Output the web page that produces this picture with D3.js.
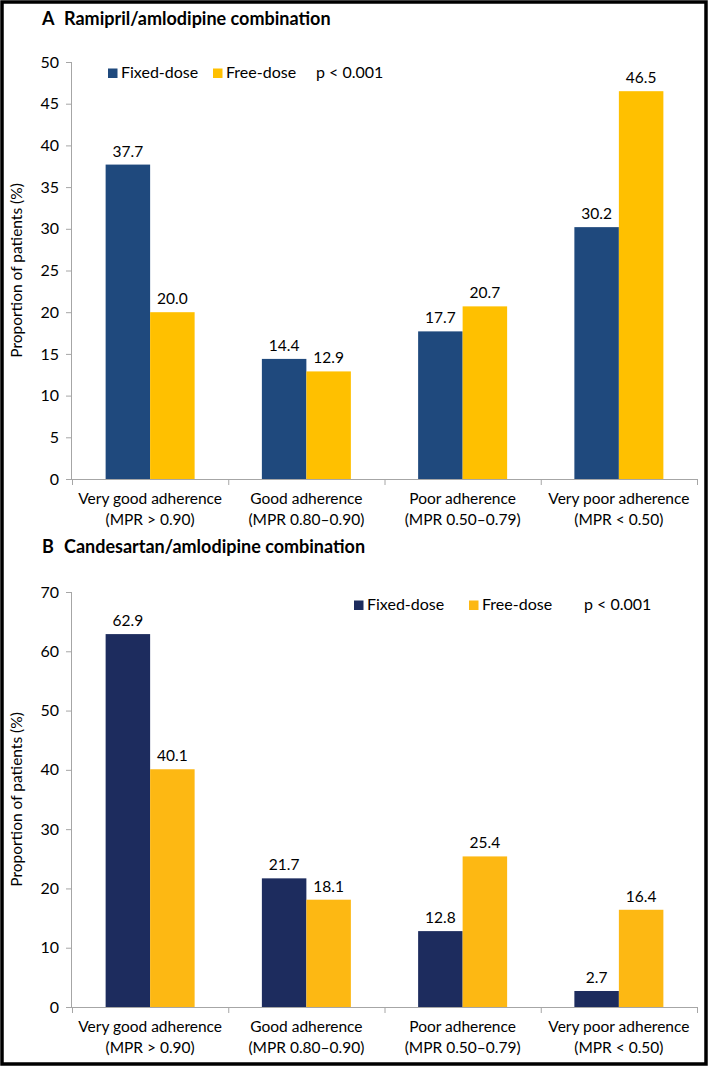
<!DOCTYPE html>
<html><head><meta charset="utf-8">
<script src="https://cdn.jsdelivr.net/npm/d3@7"></script>
<style>body{margin:0;background:#fff}svg{display:block}text{font-family:Lato,"Open Sans",sans-serif}</style>
</head><body>
<svg id="c" width="709" height="1067"></svg>
<script>
const categories = ["Very good adherence|(MPR > 0.90)", "Good adherence|(MPR 0.80–0.90)", "Poor adherence|(MPR 0.50–0.79)", "Very poor adherence|(MPR < 0.50)"];
const seriesNames = ["Fixed-dose", "Free-dose"];
const fixedA = [37.7, 14.4, 17.7, 30.2];
const freeA = [20.0, 12.9, 20.7, 46.5];
const fixedB = [62.9, 21.7, 12.8, 2.7];
const freeB = [40.1, 18.1, 25.4, 16.4];
const ticksA = [0, 5, 10, 15, 20, 25, 30, 35, 40, 45, 50];
const ticksB = [0, 10, 20, 30, 40, 50, 60, 70];

const svg = d3.select("#c");
svg.append("rect").attr("x",2).attr("y",2).attr("width",704).attr("height",1062)
  .attr("fill","none").attr("stroke","#000").attr("stroke-width",3.5);

function panel(o){
  const g = svg.append("g");
  g.append("text").attr("x",42).attr("y",o.titleY).attr("font-weight","bold").attr("font-size",18)
    .attr("fill","#000").text(o.letter).append("tspan").attr("x",64).text(o.title);
  const y = d3.scaleLinear().domain([0,o.max]).range([o.y0,o.y1]);
  const x = d3.scaleBand().domain(categories).range([72,697]);
  const axisColor = "#a6a6a6";
  const ya = g.append("g").attr("transform","translate(72,0)").call(d3.axisLeft(y).tickValues(o.ticks).tickSize(6).tickPadding(7));
  ya.select(".domain").attr("stroke",axisColor).attr("d",`M-0.5,${o.y0}V${o.y1}`);
  ya.selectAll(".tick line").attr("stroke",axisColor);
  ya.selectAll(".tick text").attr("font-size",16).attr("fill","#000").style("font-family","Lato");
  g.append("line").attr("x1",72).attr("x2",697).attr("y1",o.y0+0.5).attr("y2",o.y0+0.5).attr("stroke",axisColor);
  const bounds = categories.map(c=>x(c)).concat([x.range()[1]]);
  g.selectAll(".xt").data(bounds).join("line").attr("x1",d=>d+0.5).attr("x2",d=>d+0.5)
    .attr("y1",o.y0).attr("y2",o.y0+6).attr("stroke",axisColor);
  const sx = d3.scaleBand().domain(seriesNames).range([-44.5,44.5]);
  const data = [];
  categories.forEach((c,i)=>{
    data.push({c, s:seriesNames[0], v:o.fixed[i]});
    data.push({c, s:seriesNames[1], v:o.free[i]});
  });
  const cx = c => x(c)+x.bandwidth()/2;
  g.selectAll(".bar").data(data).join("rect")
    .attr("x",d=>cx(d.c)+sx(d.s)).attr("width",sx.bandwidth())
    .attr("y",d=>y(d.v)).attr("height",d=>y(0)-y(d.v))
    .attr("fill",d=>d.s===seriesNames[0]?o.c1:o.c2);
  g.selectAll(".lbl").data(data).join("text")
    .attr("x",d=>cx(d.c)+sx(d.s)+sx.bandwidth()/2).attr("y",d=>y(d.v)-8)
    .attr("text-anchor","middle").attr("font-size",15.5).attr("fill","#000")
    .text(d=>d.v.toFixed(1));
  categories.forEach(c=>{
    const parts=c.split("|");
    const t=g.append("text").attr("text-anchor","middle").attr("font-size",15.5).attr("fill","#000");
    t.append("tspan").attr("x",cx(c)).attr("y",o.y0+25).text(parts[0]);
    t.append("tspan").attr("x",cx(c)).attr("y",o.y0+46).text(parts[1]);
  });
  g.append("text").attr("transform",`translate(22,${(o.y0+o.y1)/2}) rotate(-90)`)
    .attr("text-anchor","middle").attr("font-size",15.5).attr("fill","#000").text("Proportion of patients (%)");
  const L=o.leg;
  g.append("rect").attr("x",L.x1).attr("y",L.y-9.5).attr("width",9.5).attr("height",9.5).attr("fill",o.c1);
  g.append("text").attr("x",L.x1+13).attr("y",L.y).attr("font-size",16).attr("fill","#000").text(seriesNames[0]);
  g.append("rect").attr("x",L.x2).attr("y",L.y-9.5).attr("width",9.5).attr("height",9.5).attr("fill",o.c2);
  g.append("text").attr("x",L.x2+13).attr("y",L.y).attr("font-size",16).attr("fill","#000").text(seriesNames[1]);
  g.append("text").attr("x",L.xp).attr("y",L.y).attr("font-size",16).attr("fill","#000").text("p < 0.001");
}

panel({letter:"A", title:"Ramipril/amlodipine combination", titleY:25, max:50, ticks:ticksA,
  y0:479, y1:62, fixed:fixedA, free:freeA, c1:"#1f497d", c2:"#ffc000",
  leg:{x1:108, x2:213, xp:316, y:78}});
panel({letter:"B", title:"Candesartan/amlodipine combination", titleY:553, max:70, ticks:ticksB,
  y0:1007, y1:592, fixed:fixedB, free:freeB, c1:"#1d2c5e", c2:"#fdb813",
  leg:{x1:354, x2:469, xp:584, y:610}});
</script>
</body></html>
